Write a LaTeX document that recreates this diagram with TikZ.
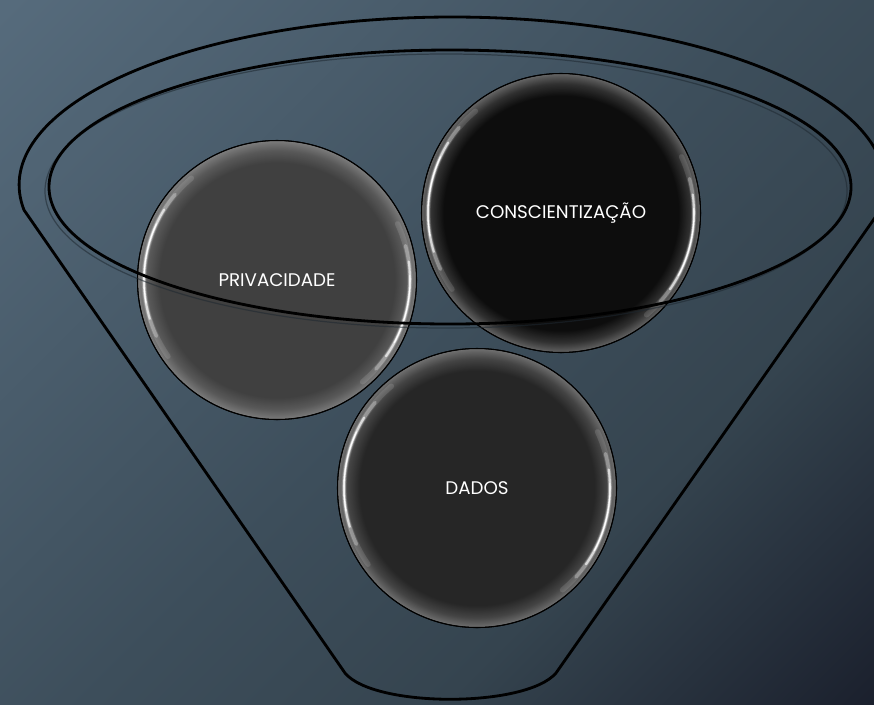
\documentclass[tikz,border=0pt]{standalone}
\usepackage{fontspec}
\setmainfont{Poppins}
\usetikzlibrary{fadings}
\definecolor{bgA}{HTML}{566B7C}
\definecolor{bgB}{HTML}{3D4E5B}
\definecolor{bgC}{HTML}{35444F}
\definecolor{bgD}{HTML}{1A1F2C}
\definecolor{fillPriv}{HTML}{404040}
\definecolor{fillCons}{HTML}{0D0D0D}
\definecolor{fillDados}{HTML}{262626}
\definecolor{glowcol}{HTML}{B0B0B0}
\definecolor{shadowcol}{HTML}{1E2830}
\pgfdeclarehorizontalshading{bgshade}{100bp}{color(0bp)=(bgA); color(15bp)=(bgA); color(50bp)=(bgB); color(66bp)=(bgC); color(86bp)=(bgD); color(100bp)=(bgD)}
\pgfdeclareradialshading{rimfadeshade}{\pgfpoint{0bp}{0bp}}{color(0bp)=(pgftransparent!100); color(21bp)=(pgftransparent!100); color(23.2bp)=(pgftransparent!78); color(24.5bp)=(pgftransparent!55); color(25bp)=(pgftransparent!45); color(50bp)=(pgftransparent!45)}
\pgfdeclarefading{rimfade}{\pgfuseshading{rimfadeshade}}
\tikzset{
  ball/.style={circle, draw=black, line width=0.6pt, minimum size=5.58cm, inner sep=0pt,
    text=white, font=\fontsize{10.4}{12}\selectfont},
  funnelline/.style={draw=black, line width=1.6pt, line join=round},
  ringline/.style={draw=black, line width=1.6pt},
  ringshadow/.style={draw=shadowcol, line width=0.7pt, opacity=0.55},
  hlA/.style={draw=white, line width=3pt, opacity=0.12, line cap=round},
  hlB/.style={draw=white, line width=2pt, opacity=0.3, line cap=round},
  hlC/.style={draw=white, line width=1.2pt, opacity=0.65, line cap=round},
  hlD/.style={draw=white, line width=0.6pt, opacity=1, line cap=round},
}
\begin{document}
\begin{tikzpicture}[x=0.02cm, y=-0.02cm]
\useasboundingbox (0,0) rectangle (874,704);
% background
\shade[shading=bgshade, shading angle=-45] (0,0) rectangle (874,704);
% funnel
\draw[funnelline] (345,673) -- (24,210)
  arc[start angle=171.44, end angle=368.56, x radius=433, y radius=168]
  -- (556,673) .. controls (526,708) and (374,708) .. (345,673) -- cycle;
% balls
\node[ball, fill=fillPriv] (P) at (277,280) {PRIVACIDADE};
\node[ball, fill=fillCons] (C) at (561,213) {CONSCIENTIZAÇÃO};
\node[ball, fill=fillDados] (D) at (477,488) {DADOS};
\foreach \n in {P,C,D} {
  \fill[glowcol, path fading=rimfade] (\n.center) circle[radius=139];
  \draw[hlA] (\n.center) ++(145:133) arc[start angle=145, end angle=230, radius=133];
  \draw[hlB] (\n.center) ++(155:133) arc[start angle=155, end angle=220, radius=133];
  \draw[hlC] (\n.center) ++(163:133) arc[start angle=163, end angle=212, radius=133];
  \draw[hlD] (\n.center) ++(170:133) arc[start angle=170, end angle=205, radius=133];
  \draw[hlA] (\n.center) ++(-25:133) arc[start angle=-25, end angle=50, radius=133];
  \draw[hlB] (\n.center) ++(-15:133) arc[start angle=-15, end angle=42, radius=133];
  \draw[hlC] (\n.center) ++(-8:133) arc[start angle=-8, end angle=35, radius=133];
  \draw[hlD] (\n.center) ++(-2:133) arc[start angle=-2, end angle=28, radius=133];
  \draw[black, line width=0.6pt] (\n.center) circle[radius=139.5];
}
% inner rim of funnel
\draw[ringshadow] (446,191) ellipse[x radius=401, y radius=137];
\draw[ringline] (450,187) ellipse[x radius=401, y radius=137];
\end{tikzpicture}
\end{document}
